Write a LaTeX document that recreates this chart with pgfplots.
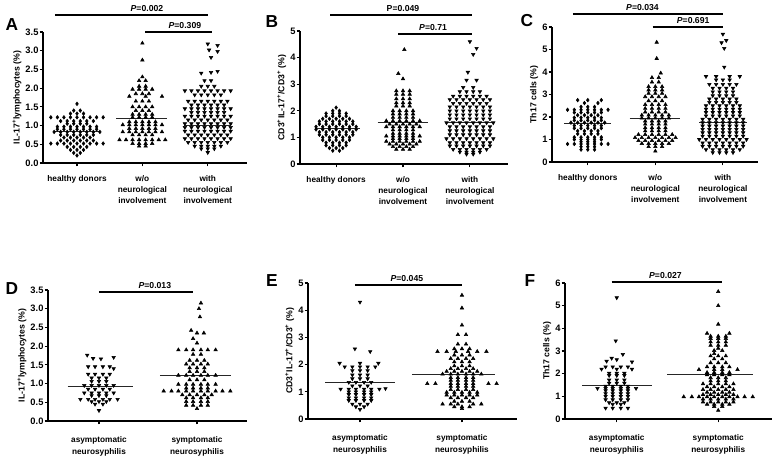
\documentclass[border=0pt]{standalone}
\usepackage{pgfplots}
\pgfplotsset{compat=1.18}
\usepackage{fontspec}
\setmainfont{Liberation Sans}
\begin{document}
\begin{tikzpicture}
\pgfplotsset{
  dot/.style={
    scale only axis, clip=false,
    axis lines=left,
    axis line style={-, line width=1.1pt},
    every tick/.style={black, line width=0.9pt},
    major tick length=2.6pt,
    tick align=outside,
    ticklabel style={font=\fontsize{7}{8}\selectfont\bfseries},
    yticklabel style={inner xsep=0.6pt},
    xticklabel style={font=\fontsize{6.2}{8.2}\selectfont\bfseries, align=center, anchor=north, yshift=-3pt},
    ylabel style={font=\fontsize{6.5}{8}\selectfont\bfseries},
    ylabel shift=-1pt,
    /pgf/number format/assume math mode=true,
    ymin=0,
  },
  lowx/.style={xticklabel style={font=\fontsize{6.2}{8.6}\selectfont\bfseries, yshift=-2.6pt}},
  onedec/.style={yticklabel style={/pgf/number format/.cd, fixed, fixed zerofill, precision=1}},
  up/.style={only marks, mark=triangle*, mark size=1.5pt, black},
  dn/.style={only marks, mark=triangle*, mark size=1.5pt, black, mark options={rotate=180}},
  dia/.style={only marks, mark=diamond*, mark size=1.35pt, black},
  mean/.style={black!85, line width=0.7pt, no markers},
}
\tikzset{
  pbar/.style={black, line width=1.1pt},
  ptext/.style={font=\fontsize{6.5}{7}\selectfont\bfseries, anchor=base, inner sep=0pt, yshift=2.5pt},
}
\path[use as bounding box] (0,0) rectangle (581.25pt,344.25pt);
\node[font=\fontsize{13}{13}\selectfont\bfseries] at (9pt,325.5pt) {A};
\node[font=\fontsize{13}{13}\selectfont\bfseries] at (204pt,327.75pt) {B};
\node[font=\fontsize{13}{13}\selectfont\bfseries] at (395.25pt,328.5pt) {C};
\node[font=\fontsize{13}{13}\selectfont\bfseries] at (9pt,127.5pt) {D};
\node[font=\fontsize{13}{13}\selectfont\bfseries] at (204pt,133.5pt) {E};
\node[font=\fontsize{13}{13}\selectfont\bfseries] at (397.5pt,133.5pt) {F};

% ---------------- A ----------------
\begin{axis}[dot, onedec, at={(32.25pt,222pt)}, anchor=south west, width=153pt, height=98.25pt,
  xmin=0.48, xmax=3.6, ymax=3.5, ytick={0,0.5,1,1.5,2,2.5,3,3.5},
  xtick={1,2,3}, xticklabels={healthy donors,{w/o\\neurological\\involvement},{with\\neurological\\involvement}},
  ylabel={IL-17\textsuperscript{+}lymphocytes (\%)}]
\addplot[dia] coordinates {
(1,1.58)
(0.95,1.40)(1.05,1.40)
(0.9,1.32)(1,1.32)(1.1,1.32)
(0.6,1.22)(0.7,1.22)(0.8,1.22)(0.9,1.22)(1,1.22)(1.1,1.22)(1.2,1.22)(1.3,1.22)(1.4,1.22)
(0.75,1.12)(0.85,1.12)(0.95,1.12)(1.05,1.12)(1.15,1.12)(1.25,1.12)
(0.85,1.05)(0.95,1.05)(1.05,1.05)(1.15,1.05)
(0.7,0.97)(0.8,0.97)(0.9,0.97)(1,0.97)(1.1,0.97)(1.2,0.97)(1.3,0.97)
(0.7,0.90)(0.8,0.90)(0.9,0.90)(1,0.90)(1.1,0.90)(1.2,0.90)(1.3,0.90)
(0.65,0.83)(0.75,0.83)(0.85,0.83)(0.95,0.83)(1.05,0.83)(1.15,0.83)(1.25,0.83)(1.35,0.83)
(0.75,0.75)(0.85,0.75)(0.95,0.75)(1.05,0.75)(1.15,0.75)(1.25,0.75)
(0.8,0.68)(0.9,0.68)(1,0.68)(1.1,0.68)(1.2,0.68)
(0.75,0.60)(0.85,0.60)(0.95,0.60)(1.05,0.60)(1.15,0.60)(1.25,0.60)
(0.6,0.52)(0.7,0.52)(0.8,0.52)(0.9,0.52)(1,0.52)(1.1,0.52)(1.2,0.52)(1.3,0.52)(1.4,0.52)
(0.85,0.43)(0.95,0.43)(1.05,0.43)(1.15,0.43)
(0.9,0.35)(1,0.35)(1.1,0.35)
(0.95,0.27)(1.05,0.27)
(1,0.20)
};
\addplot[up] coordinates {
(2,3.20)(2,2.75)(2,2.30)
(1.95,2.20)(2.05,2.20)
(1.95,2.05)(2.05,2.05)
(1.85,1.97)(1.95,1.97)(2.05,1.97)(2.15,1.97)
(1.9,1.85)(2,1.85)(2.1,1.85)
(1.8,1.78)(2.05,1.78)(2.3,1.78)
(1.9,1.65)(2,1.65)(2.1,1.65)
(1.85,1.50)(1.95,1.50)(2.05,1.50)(2.15,1.50)
(1.9,1.40)(2,1.40)(2.1,1.40)
(1.85,1.30)(1.95,1.30)(2.05,1.30)(2.15,1.30)
(1.85,1.22)(1.95,1.22)(2.05,1.22)(2.15,1.22)
(1.8,1.10)(1.9,1.10)(2,1.10)(2.1,1.10)(2.2,1.10)
(1.7,1.02)(1.8,1.02)(1.9,1.02)(2,1.02)(2.1,1.02)(2.2,1.02)(2.3,1.02)
(1.8,0.92)(1.9,0.92)(2,0.92)(2.1,0.92)(2.2,0.92)
(1.7,0.83)(1.8,0.83)(1.9,0.83)(2,0.83)(2.1,0.83)(2.2,0.83)(2.3,0.83)
(1.85,0.75)(1.95,0.75)(2.05,0.75)(2.15,0.75)
(1.65,0.62)(1.75,0.62)(1.85,0.62)(1.95,0.62)(2.05,0.62)(2.15,0.62)(2.25,0.62)(2.35,0.62)
(1.85,0.52)(1.95,0.52)(2.05,0.52)(2.15,0.52)
(1.95,0.45)(2.05,0.45)
};
\addplot[dn] coordinates {
(3,3.18)(3.15,3.14)(3.02,3.02)(3.15,2.98)(3.05,2.82)
(2.9,2.40)(3.05,2.42)(3.15,2.45)
(2.95,2.20)(3.05,2.20)
(2.9,2.05)(3,2.05)(3.1,2.05)
(2.65,1.93)(2.75,1.93)(2.85,1.93)(2.95,1.93)(3.05,1.93)(3.15,1.93)(3.25,1.93)(3.35,1.93)
(2.8,1.82)(2.9,1.82)(3,1.82)(3.1,1.82)(3.2,1.82)
(2.7,1.65)(2.8,1.65)(2.9,1.65)(3,1.65)(3.1,1.65)(3.2,1.65)(3.3,1.65)
(2.75,1.55)(2.85,1.55)(2.95,1.55)(3.05,1.55)(3.15,1.55)(3.25,1.55)
(2.65,1.45)(2.75,1.45)(2.85,1.45)(2.95,1.45)(3.05,1.45)(3.15,1.45)(3.25,1.45)(3.35,1.45)
(2.75,1.35)(2.85,1.35)(2.95,1.35)(3.05,1.35)(3.15,1.35)(3.25,1.35)
(2.65,1.25)(2.75,1.25)(2.85,1.25)(2.95,1.25)(3.05,1.25)(3.15,1.25)(3.25,1.25)(3.35,1.25)
(2.7,1.15)(2.8,1.15)(2.9,1.15)(3,1.15)(3.1,1.15)(3.2,1.15)(3.3,1.15)
(2.65,1.05)(2.75,1.05)(2.85,1.05)(2.95,1.05)(3.05,1.05)(3.15,1.05)(3.25,1.05)(3.35,1.05)
(2.65,0.95)(2.75,0.95)(2.85,0.95)(2.95,0.95)(3.05,0.95)(3.15,0.95)(3.25,0.95)(3.35,0.95)
(2.65,0.85)(2.75,0.85)(2.85,0.85)(2.95,0.85)(3.05,0.85)(3.15,0.85)(3.25,0.85)(3.35,0.85)
(2.7,0.75)(2.8,0.75)(2.9,0.75)(3,0.75)(3.1,0.75)(3.2,0.75)(3.3,0.75)
(2.65,0.65)(2.75,0.65)(2.85,0.65)(2.95,0.65)(3.05,0.65)(3.15,0.65)(3.25,0.65)(3.35,0.65)
(2.7,0.55)(2.8,0.55)(2.9,0.55)(3,0.55)(3.1,0.55)(3.2,0.55)(3.3,0.55)
(2.8,0.45)(2.9,0.45)(3,0.45)(3.1,0.45)(3.2,0.45)
(2.9,0.38)(3,0.38)(3.1,0.38)
(3,0.28)
};
\addplot[mean] coordinates {(0.66,0.85)(1.35,0.85)};
\addplot[mean] coordinates {(1.6,1.20)(2.38,1.20)};
\addplot[mean] coordinates {(2.64,1.00)(3.34,1.00)};
\draw[pbar] (axis cs:0.66,3.95) -- (axis cs:3.0,3.95);
\node[ptext] at (axis cs:2.07,3.95) {\textit{P}=0.002};
\draw[pbar] (axis cs:2.04,3.5) -- (axis cs:3.06,3.5);
\node[ptext] at (axis cs:2.65,3.5) {\textit{P}=0.309};
\end{axis}

% ---------------- B ----------------
\begin{axis}[dot, at={(225pt,221.25pt)}, anchor=south west, width=156pt, height=99.75pt,
  xmin=0.46, xmax=3.57, ymax=5, ytick={0,1,2,3,4,5},
  xtick={1,2,3}, xticklabels={healthy donors,{w/o\\neurological\\involvement},{with\\neurological\\involvement}},
  ylabel={CD3\textsuperscript{+}IL-17\textsuperscript{+}/CD3\textsuperscript{+} (\%)}]
\addplot[dia] coordinates {
(1,2.12)
(0.95,2.0)(1.05,2.0)
(0.85,1.9)(0.95,1.9)(1.05,1.9)(1.15,1.9)
(0.85,1.8)(0.95,1.8)(1.05,1.8)(1.15,1.8)
(0.8,1.7)(0.9,1.7)(1,1.7)(1.1,1.7)(1.2,1.7)
(0.75,1.6)(0.85,1.6)(0.95,1.6)(1.05,1.6)(1.15,1.6)(1.25,1.6)
(0.75,1.5)(0.85,1.5)(0.95,1.5)(1.05,1.5)(1.15,1.5)(1.25,1.5)
(0.7,1.4)(0.8,1.4)(0.9,1.4)(1,1.4)(1.1,1.4)(1.2,1.4)(1.3,1.4)
(0.7,1.3)(0.8,1.3)(0.9,1.3)(1,1.3)(1.1,1.3)(1.2,1.3)(1.3,1.3)
(0.75,1.2)(0.85,1.2)(0.95,1.2)(1.05,1.2)(1.15,1.2)(1.25,1.2)
(0.75,1.1)(0.85,1.1)(0.95,1.1)(1.05,1.1)(1.15,1.1)(1.25,1.1)
(0.8,1.0)(0.9,1.0)(1,1.0)(1.1,1.0)(1.2,1.0)
(0.8,0.9)(0.9,0.9)(1,0.9)(1.1,0.9)(1.2,0.9)
(0.85,0.8)(0.95,0.8)(1.05,0.8)(1.15,0.8)
(0.85,0.7)(0.95,0.7)(1.05,0.7)(1.15,0.7)
(0.9,0.6)(1,0.6)(1.1,0.6)
(0.95,0.5)(1.05,0.5)
};
\addplot[up] coordinates {
(2.02,4.30)(1.93,3.40)(2.0,3.20)
(1.9,2.75)(2,2.75)(2.1,2.75)
(1.9,2.62)(2,2.62)(2.1,2.62)
(1.9,2.45)(2,2.45)(2.1,2.45)
(1.9,2.30)(2,2.30)(2.1,2.30)
(1.9,2.18)(2,2.18)(2.1,2.18)
(1.85,2.00)(1.95,2.00)(2.05,2.00)(2.15,2.00)
(1.85,1.88)(1.95,1.88)(2.05,1.88)(2.15,1.88)
(1.85,1.75)(1.95,1.75)(2.05,1.75)(2.15,1.75)
(1.75,1.62)(1.85,1.62)(1.95,1.62)(2.05,1.62)(2.15,1.62)(2.25,1.62)
(1.8,1.50)(1.9,1.50)(2,1.50)(2.1,1.50)(2.2,1.50)
(1.75,1.40)(1.85,1.40)(1.95,1.40)(2.05,1.40)(2.15,1.40)(2.25,1.40)
(1.85,1.28)(1.95,1.28)(2.05,1.28)(2.15,1.28)
(1.85,1.15)(1.95,1.15)(2.05,1.15)(2.15,1.15)
(1.75,1.05)(1.85,1.05)(1.95,1.05)(2.05,1.05)(2.15,1.05)(2.25,1.05)
(1.85,0.95)(1.95,0.95)(2.05,0.95)(2.15,0.95)
(1.75,0.85)(1.85,0.85)(1.95,0.85)(2.05,0.85)(2.15,0.85)(2.25,0.85)
(1.8,0.75)(1.9,0.75)(2,0.75)(2.1,0.75)(2.2,0.75)
(1.85,0.65)(1.95,0.65)(2.05,0.65)(2.15,0.65)
(1.9,0.55)(2,0.55)(2.1,0.55)
};
\addplot[dn] coordinates {
(3,4.60)(3.1,4.35)(3.05,4.12)(2.97,3.45)(2.95,3.15)(3.1,3.15)(2.9,2.88)(3.05,2.88)
(2.85,2.72)(2.95,2.72)(3.05,2.72)(3.15,2.72)
(2.75,2.55)(2.85,2.55)(2.95,2.55)(3.05,2.55)(3.15,2.55)(3.25,2.55)
(2.7,2.42)(2.8,2.42)(2.9,2.42)(3,2.42)(3.1,2.42)(3.2,2.42)(3.3,2.42)
(2.75,2.28)(2.85,2.28)(2.95,2.28)(3.05,2.28)(3.15,2.28)(3.25,2.28)
(2.7,2.15)(2.8,2.15)(2.9,2.15)(3,2.15)(3.1,2.15)(3.2,2.15)(3.3,2.15)
(2.7,2.0)(2.8,2.0)(2.9,2.0)(3,2.0)(3.1,2.0)(3.2,2.0)(3.3,2.0)
(2.7,1.85)(2.8,1.85)(2.9,1.85)(3,1.85)(3.1,1.85)(3.2,1.85)(3.3,1.85)
(2.7,1.7)(2.8,1.7)(2.9,1.7)(3,1.7)(3.1,1.7)(3.2,1.7)(3.3,1.7)
(2.65,1.55)(2.75,1.55)(2.85,1.55)(2.95,1.55)(3.05,1.55)(3.15,1.55)(3.25,1.55)(3.35,1.55)
(2.7,1.4)(2.8,1.4)(2.9,1.4)(3,1.4)(3.1,1.4)(3.2,1.4)(3.3,1.4)
(2.7,1.25)(2.8,1.25)(2.9,1.25)(3,1.25)(3.1,1.25)(3.2,1.25)(3.3,1.25)
(2.7,1.1)(2.8,1.1)(2.9,1.1)(3,1.1)(3.1,1.1)(3.2,1.1)(3.3,1.1)
(2.65,0.95)(2.75,0.95)(2.85,0.95)(2.95,0.95)(3.05,0.95)(3.15,0.95)(3.25,0.95)(3.35,0.95)
(2.7,0.8)(2.8,0.8)(2.9,0.8)(3,0.8)(3.1,0.8)(3.2,0.8)(3.3,0.8)
(2.7,0.68)(2.8,0.68)(2.9,0.68)(3,0.68)(3.1,0.68)(3.2,0.68)(3.3,0.68)
(2.75,0.55)(2.85,0.55)(2.95,0.55)(3.05,0.55)(3.15,0.55)(3.25,0.55)
(2.85,0.45)(2.95,0.45)(3.05,0.45)(3.15,0.45)
(2.95,0.37)(3.05,0.37)
};
\addplot[mean] coordinates {(0.68,1.34)(1.35,1.34)};
\addplot[mean] coordinates {(1.62,1.57)(2.38,1.57)};
\addplot[mean] coordinates {(2.64,1.55)(3.34,1.55)};
\draw[pbar] (axis cs:0.91,5.6) -- (axis cs:3.03,5.6);
\node[ptext] at (axis cs:2.0,5.6) {P=0.049};
\draw[pbar] (axis cs:1.93,4.89) -- (axis cs:3.03,4.89);
\node[ptext] at (axis cs:2.45,4.89) {\textit{P}=0.71};
\end{axis}

% ---------------- C ----------------
\begin{axis}[dot, at={(414pt,222.75pt)}, anchor=south west, width=154.5pt, height=101.25pt,
  xmin=0.47, xmax=3.52, ymax=6, ytick={0,1,2,3,4,5,6},
  xtick={1,2,3}, xticklabels={healthy donors,{w/o\\neurological\\involvement},{with\\neurological\\involvement}},
  ylabel={Th17 cells (\%)}]
\addplot[dia] coordinates {
(0.85,2.75)(1,2.75)(1.2,2.75)
(0.95,2.62)(1.15,2.62)
(0.9,2.45)(1,2.45)(1.1,2.45)
(0.7,2.32)(0.8,2.32)(0.9,2.32)(1,2.32)(1.1,2.32)(1.2,2.32)(1.3,2.32)
(0.8,2.20)(0.9,2.20)(1,2.20)(1.1,2.20)(1.2,2.20)
(0.85,2.08)(0.95,2.08)(1.05,2.08)(1.15,2.08)
(0.8,1.97)(0.9,1.97)(1,1.97)(1.1,1.97)(1.2,1.97)
(0.8,1.85)(0.9,1.85)(1,1.85)(1.1,1.85)(1.2,1.85)
(0.75,1.75)(0.85,1.75)(0.95,1.75)(1.05,1.75)(1.15,1.75)(1.25,1.75)
(0.8,1.62)(0.9,1.62)(1,1.62)(1.1,1.62)(1.2,1.62)
(0.8,1.50)(0.9,1.50)(1,1.50)(1.1,1.50)(1.2,1.50)
(0.85,1.38)(0.95,1.38)(1.05,1.38)(1.15,1.38)
(0.85,1.25)(0.95,1.25)(1.05,1.25)(1.15,1.25)
(0.8,1.10)(0.9,1.10)(1,1.10)(1.1,1.10)(1.2,1.10)
(0.8,1.00)(0.9,1.00)(1,1.00)(1.1,1.00)(1.2,1.00)
(0.9,0.90)(1,0.90)(1.1,0.90)
(0.7,0.80)(0.8,0.80)(0.9,0.80)(1,0.80)(1.1,0.80)(1.2,0.80)(1.3,0.80)
(0.9,0.68)(1,0.68)(1.1,0.68)
(0.9,0.55)(1,0.55)(1.1,0.55)
};
\addplot[up] coordinates {
(2.02,5.32)(2.02,4.60)(2.08,3.95)
(1.95,3.75)(2.05,3.75)
(1.95,3.55)(2.05,3.55)
(1.9,3.35)(2,3.35)(2.1,3.35)
(1.9,3.20)(2,3.20)(2.1,3.20)
(1.9,3.05)(2,3.05)(2.1,3.05)
(1.85,2.90)(1.95,2.90)(2.05,2.90)(2.15,2.90)
(1.9,2.72)(2,2.72)(2.1,2.72)
(1.85,2.55)(1.95,2.55)(2.05,2.55)(2.15,2.55)
(1.85,2.38)(1.95,2.38)(2.05,2.38)(2.15,2.38)
(1.85,2.22)(1.95,2.22)(2.05,2.22)(2.15,2.22)
(1.8,2.08)(1.9,2.08)(2,2.08)(2.1,2.08)(2.2,2.08)
(1.8,1.95)(1.9,1.95)(2,1.95)(2.1,1.95)(2.2,1.95)
(1.85,1.82)(1.95,1.82)(2.05,1.82)(2.15,1.82)
(1.85,1.68)(1.95,1.68)(2.05,1.68)(2.15,1.68)
(1.85,1.52)(1.95,1.52)(2.05,1.52)(2.15,1.52)
(1.85,1.38)(1.95,1.38)(2.05,1.38)(2.15,1.38)
(1.75,1.22)(1.85,1.22)(1.95,1.22)(2.05,1.22)(2.15,1.22)(2.25,1.22)
(1.7,1.08)(1.8,1.08)(1.9,1.08)(2,1.08)(2.1,1.08)(2.2,1.08)(2.3,1.08)
(1.75,0.95)(1.85,0.95)(1.95,0.95)(2.05,0.95)(2.15,0.95)(2.25,0.95)
(1.8,0.82)(1.9,0.82)(2,0.82)(2.1,0.82)(2.2,0.82)
(1.9,0.68)(2,0.68)(2.1,0.68)
(2,0.48)
};
\addplot[dn] coordinates {
(3,5.68)(3.05,5.40)(2.98,5.30)(3.02,5.05)(3.02,4.22)
(2.75,3.80)(2.9,3.80)(3.1,3.80)(3.25,3.80)
(2.9,3.65)(3,3.65)(3.1,3.65)
(2.8,3.45)(2.9,3.45)(3,3.45)(3.1,3.45)(3.2,3.45)
(2.85,3.28)(2.95,3.28)(3.05,3.28)(3.15,3.28)
(2.85,3.12)(2.95,3.12)(3.05,3.12)(3.15,3.12)
(2.85,2.95)(2.95,2.95)(3.05,2.95)(3.15,2.95)
(2.8,2.80)(2.9,2.80)(3,2.80)(3.1,2.80)(3.2,2.80)
(2.8,2.65)(2.9,2.65)(3,2.65)(3.1,2.65)(3.2,2.65)
(2.75,2.50)(2.85,2.50)(2.95,2.50)(3.05,2.50)(3.15,2.50)(3.25,2.50)
(2.75,2.35)(2.85,2.35)(2.95,2.35)(3.05,2.35)(3.15,2.35)(3.25,2.35)
(2.75,2.20)(2.85,2.20)(2.95,2.20)(3.05,2.20)(3.15,2.20)(3.25,2.20)
(2.75,2.05)(2.85,2.05)(2.95,2.05)(3.05,2.05)(3.15,2.05)(3.25,2.05)
(2.7,1.90)(2.8,1.90)(2.9,1.90)(3,1.90)(3.1,1.90)(3.2,1.90)(3.3,1.90)
(2.7,1.75)(2.8,1.75)(2.9,1.75)(3,1.75)(3.1,1.75)(3.2,1.75)(3.3,1.75)
(2.7,1.60)(2.8,1.60)(2.9,1.60)(3,1.60)(3.1,1.60)(3.2,1.60)(3.3,1.60)
(2.7,1.45)(2.8,1.45)(2.9,1.45)(3,1.45)(3.1,1.45)(3.2,1.45)(3.3,1.45)
(2.7,1.30)(2.8,1.30)(2.9,1.30)(3,1.30)(3.1,1.30)(3.2,1.30)(3.3,1.30)
(2.7,1.15)(2.8,1.15)(2.9,1.15)(3,1.15)(3.1,1.15)(3.2,1.15)(3.3,1.15)
(2.65,1.00)(2.75,1.00)(2.85,1.00)(2.95,1.00)(3.05,1.00)(3.15,1.00)(3.25,1.00)(3.35,1.00)
(2.7,0.85)(2.8,0.85)(2.9,0.85)(3,0.85)(3.1,0.85)(3.2,0.85)(3.3,0.85)
(2.7,0.70)(2.8,0.70)(2.9,0.70)(3,0.70)(3.1,0.70)(3.2,0.70)(3.3,0.70)
(2.75,0.55)(2.85,0.55)(2.95,0.55)(3.05,0.55)(3.15,0.55)(3.25,0.55)
(2.85,0.42)(2.95,0.42)(3.05,0.42)(3.15,0.42)
};
\addplot[mean] coordinates {(0.65,1.70)(1.35,1.70)};
\addplot[mean] coordinates {(1.62,1.93)(2.36,1.93)};
\addplot[mean] coordinates {(2.65,1.76)(3.35,1.76)};
\draw[pbar] (axis cs:0.78,6.58) -- (axis cs:3.0,6.58);
\node[ptext] at (axis cs:1.81,6.58) {\textit{P}=0.034};
\draw[pbar] (axis cs:1.96,6.0) -- (axis cs:3.0,6.0);
\node[ptext] at (axis cs:2.56,6.0) {\textit{P}=0.691};
\end{axis}

% ---------------- D ----------------
\begin{axis}[dot, lowx, onedec, at={(36pt,28.5pt)}, anchor=south west, width=149.25pt, height=98.25pt,
  xmin=0.48, xmax=2.51, ymax=3.5, ytick={0,0.5,1,1.5,2,2.5,3,3.5},
  xtick={1,2}, xticklabels={{asymptomatic\\neurosyphilis},{symptomatic\\neurosyphilis}},
  ylabel={IL-17\textsuperscript{+}lymphocytes (\%)}]
\addplot[dn] coordinates {
(0.88,1.76)(0.94,1.67)(1.02,1.66)(1.15,1.70)
(0.89,1.45)(0.96,1.45)(1.04,1.45)(1.11,1.45)(1.15,1.40)
(0.89,1.25)(0.96,1.25)(1.04,1.25)(1.11,1.25)
(0.925,1.15)(1,1.15)(1.075,1.15)
(0.925,1.06)(1,1.06)(1.075,1.06)
(0.85,0.95)(0.925,0.95)(1,0.95)(1.075,0.95)(1.15,0.95)
(0.89,0.85)(0.96,0.85)(1.04,0.85)(1.11,0.85)
(0.85,0.75)(0.925,0.75)(1,0.75)(1.075,0.75)(1.15,0.75)
(0.925,0.68)(1,0.68)(1.075,0.68)
(0.81,0.58)(0.89,0.58)(0.96,0.58)(1.04,0.58)(1.11,0.58)(1.19,0.58)
(0.925,0.52)(1,0.52)(1.075,0.52)
(0.96,0.45)(1.04,0.45)
(1,0.28)
};
\addplot[up] coordinates {
(2.04,3.15)(2.02,3.00)(2.03,2.78)(1.94,2.42)
(2,2.35)(2.07,2.35)
(1.96,2.20)(2.0,2.08)
(1.81,1.90)(1.89,1.90)(1.96,1.90)(2.04,1.90)(2.11,1.90)(2.19,1.90)
(1.96,1.78)(2.04,1.78)
(1.925,1.62)(2,1.62)(2.075,1.62)
(1.89,1.52)(1.96,1.52)(2.04,1.52)(2.11,1.52)
(1.925,1.42)(2,1.42)(2.075,1.42)
(1.925,1.32)(2,1.32)(2.075,1.32)
(1.81,1.22)(1.89,1.22)(1.96,1.22)(2.04,1.22)(2.11,1.22)(2.19,1.22)
(1.925,1.10)(2,1.10)(2.075,1.10)
(1.81,0.98)(1.89,0.98)(1.96,0.98)(2.04,0.98)(2.11,0.98)(2.19,0.98)
(1.89,0.88)(1.96,0.88)(2.04,0.88)(2.11,0.88)
(1.66,0.80)(1.74,0.80)(1.81,0.80)(1.89,0.80)(1.96,0.80)(2.04,0.80)(2.11,0.80)(2.19,0.80)(2.26,0.80)(2.34,0.80)
(1.85,0.70)(1.925,0.70)(2,0.70)(2.075,0.70)(2.15,0.70)
(1.89,0.62)(1.96,0.62)(2.04,0.62)(2.11,0.62)
(1.89,0.52)(1.96,0.52)(2.04,0.52)(2.11,0.52)
(1.89,0.42)(1.96,0.42)(2.04,0.42)(2.11,0.42)
(2,0.33)
};
\addplot[mean] coordinates {(0.68,0.93)(1.35,0.93)};
\addplot[mean] coordinates {(1.62,1.21)(2.35,1.21)};
\draw[pbar] (axis cs:1.0,3.45) -- (axis cs:1.96,3.45);
\node[ptext] at (axis cs:1.57,3.45) {\textit{P}=0.013};
\end{axis}

% ---------------- E ----------------
\begin{axis}[dot, lowx, at={(231pt,30pt)}, anchor=south west, width=156.75pt, height=102pt,
  xmin=0.49, xmax=2.54, ymax=5, ytick={0,1,2,3,4,5},
  xtick={1,2}, xticklabels={{asymptomatic\\neurosyphilis},{symptomatic\\neurosyphilis}},
  ylabel={CD3\textsuperscript{+}IL-17\textsuperscript{+}/CD3\textsuperscript{+} (\%)}]
\addplot[dn] coordinates {
(1,4.30)(0.95,2.58)(1.1,2.48)
(0.8,2.05)(1.0,2.05)(1.18,2.05)
(0.85,1.92)(0.925,1.92)(1,1.92)(1.075,1.92)(1.15,1.92)
(0.925,1.78)(1,1.78)(1.075,1.78)
(0.925,1.62)(1,1.62)(1.075,1.62)
(0.925,1.48)(1,1.48)(1.075,1.48)
(0.89,1.35)(0.96,1.35)(1.04,1.35)(1.11,1.35)
(0.925,1.22)(1,1.22)(1.075,1.22)
(0.81,1.10)(0.89,1.10)(0.96,1.10)(1.04,1.10)(1.11,1.10)(1.19,1.10)(1.25,1.12)
(0.89,1.00)(0.96,1.00)(1.04,1.00)(1.11,1.00)
(0.89,0.90)(0.96,0.90)(1.04,0.90)(1.11,0.90)
(0.89,0.78)(0.96,0.78)(1.04,0.78)(1.11,0.78)
(0.89,0.68)(0.96,0.68)(1.04,0.68)(1.11,0.68)
(0.925,0.55)(1,0.55)(1.075,0.55)
(0.96,0.45)(1.04,0.45)
(1,0.35)
};
\addplot[up] coordinates {
(2,4.55)(2,4.08)(2,3.45)
(1.96,3.10)(2.04,3.10)
(1.96,2.75)(2.04,2.75)
(1.925,2.58)(2,2.58)(2.075,2.58)
(1.76,2.48)(1.85,2.48)(1.94,2.48)(2.06,2.48)(2.15,2.48)(2.24,2.48)
(1.925,2.35)(2,2.35)(2.075,2.35)
(1.89,2.22)(1.96,2.22)(2.04,2.22)(2.11,2.22)
(1.925,2.10)(2,2.10)(2.075,2.10)
(1.925,1.95)(2,1.95)(2.075,1.95)
(1.89,1.85)(1.96,1.85)(2.04,1.85)(2.11,1.85)
(1.85,1.75)(1.925,1.75)(2,1.75)(2.075,1.75)(2.15,1.75)
(1.81,1.65)(1.89,1.65)(1.96,1.65)(2.04,1.65)(2.11,1.65)(2.19,1.65)
(1.89,1.52)(1.96,1.52)(2.04,1.52)(2.11,1.52)
(1.89,1.42)(1.96,1.42)(2.04,1.42)(2.11,1.42)
(1.66,1.30)(1.74,1.30)(1.89,1.30)(1.96,1.30)(2.04,1.30)(2.11,1.30)(2.26,1.30)(2.34,1.30)
(1.89,1.20)(1.96,1.20)(2.04,1.20)(2.11,1.20)
(1.89,1.08)(1.96,1.08)(2.04,1.08)(2.11,1.08)
(1.85,0.98)(1.925,0.98)(2,0.98)(2.075,0.98)(2.15,0.98)
(1.85,0.88)(1.925,0.88)(2,0.88)(2.075,0.88)(2.15,0.88)
(1.89,0.78)(1.96,0.78)(2.04,0.78)(2.11,0.78)
(1.925,0.65)(2,0.65)(2.075,0.65)
(1.81,0.55)(1.89,0.55)(1.96,0.55)(2.11,0.55)(2.19,0.55)
(1.925,0.45)(2,0.45)(2.075,0.45)
(2,0.38)
};
\addplot[mean] coordinates {(0.66,1.35)(1.34,1.35)};
\addplot[mean] coordinates {(1.51,1.65)(2.32,1.65)};
\draw[pbar] (axis cs:0.95,4.93) -- (axis cs:2.0,4.93);
\node[ptext] at (axis cs:1.46,4.93) {\textit{P}=0.045};
\end{axis}

% ---------------- F ----------------
\begin{axis}[dot, lowx, at={(423.75pt,30pt)}, anchor=south west, width=155.25pt, height=102pt,
  xmin=0.49, xmax=2.53, ymax=6, ytick={0,1,2,3,4,5,6},
  xtick={1,2}, xticklabels={{asymptomatic\\neurosyphilis},{symptomatic\\neurosyphilis}},
  ylabel={Th17 cells (\%)}]
\addplot[dn] coordinates {
(1,5.35)(0.99,3.45)(1.06,2.85)
(0.95,2.68)(1.0,2.62)
(0.9,2.55)(1.15,2.52)
(0.89,2.30)(0.96,2.30)(1.04,2.30)(1.11,2.30)
(0.85,2.20)(1,2.20)(1.15,2.20)
(0.925,2.02)(1,2.02)(1.075,2.02)
(0.925,1.92)(1,1.92)(1.075,1.92)
(0.925,1.72)(1,1.72)(1.075,1.72)
(0.925,1.58)(1,1.58)(1.075,1.58)
(0.89,1.45)(0.96,1.45)(1.04,1.45)(1.11,1.45)
(0.81,1.35)(0.89,1.35)(0.96,1.35)(1.04,1.35)(1.11,1.35)(1.19,1.35)
(0.89,1.25)(0.96,1.25)(1.04,1.25)(1.11,1.25)
(0.89,1.12)(0.96,1.12)(1.04,1.12)(1.11,1.12)
(0.89,1.00)(0.96,1.00)(1.04,1.00)(1.11,1.00)
(0.89,0.85)(0.96,0.85)(1.04,0.85)(1.11,0.85)
(0.925,0.72)(1,0.72)(1.075,0.72)
(0.96,0.65)(1.04,0.65)
(0.89,0.48)(0.96,0.48)(1.04,0.48)(1.11,0.48)
};
\addplot[up] coordinates {
(2,5.62)(2.0,5.00)(2.0,4.18)
(1.89,3.78)(2.11,3.78)
(1.925,3.65)(2,3.65)(2.075,3.65)
(1.925,3.55)(2,3.55)(2.075,3.55)
(1.925,3.40)(2,3.40)(2.075,3.40)
(1.925,3.25)(2,3.25)(2.075,3.25)
(2.0,3.12)
(1.96,3.02)(2.04,3.02)
(1.96,2.88)
(1.925,2.78)(2,2.78)(2.075,2.78)
(1.96,2.65)(2.04,2.65)
(1.925,2.48)(2,2.48)(2.075,2.48)
(1.89,2.30)(1.96,2.30)(2.04,2.30)(2.11,2.30)
(1.81,2.18)(1.96,2.18)(2.04,2.18)(2.19,2.18)
(1.89,2.05)(1.96,2.05)(2.04,2.05)(2.11,2.05)
(1.89,1.95)(1.96,1.95)(2.04,1.95)(2.11,1.95)
(1.925,1.82)(2,1.82)(2.075,1.82)
(1.925,1.68)(2,1.68)(2.075,1.68)
(1.85,1.55)(1.925,1.55)(2,1.55)(2.075,1.55)(2.15,1.55)
(1.89,1.42)(1.96,1.42)(2.04,1.42)(2.11,1.42)
(1.85,1.30)(1.925,1.30)(2,1.30)(2.075,1.30)(2.15,1.30)
(1.89,1.18)(1.96,1.18)(2.04,1.18)(2.11,1.18)
(1.85,1.08)(1.925,1.08)(2,1.08)(2.075,1.08)(2.15,1.08)
(1.66,0.98)(1.74,0.98)(1.81,0.98)(1.89,0.98)(1.96,0.98)(2.04,0.98)(2.11,0.98)(2.19,0.98)(2.26,0.98)(2.34,0.98)
(1.85,0.88)(1.925,0.88)(2,0.88)(2.075,0.88)(2.15,0.88)
(1.85,0.75)(1.925,0.75)(2,0.75)(2.075,0.75)(2.15,0.75)
(1.89,0.65)(1.96,0.65)(2.04,0.65)(2.11,0.65)
(1.96,0.55)(2.04,0.55)
(2,0.38)
};
\addplot[mean] coordinates {(0.66,1.46)(1.35,1.46)};
\addplot[mean] coordinates {(1.5,1.98)(2.34,1.98)};
\draw[pbar] (axis cs:0.95,6.04) -- (axis cs:2.04,6.04);
\node[ptext] at (axis cs:1.48,6.04) {\textit{P}=0.027};
\end{axis}
\end{tikzpicture}
\end{document}
